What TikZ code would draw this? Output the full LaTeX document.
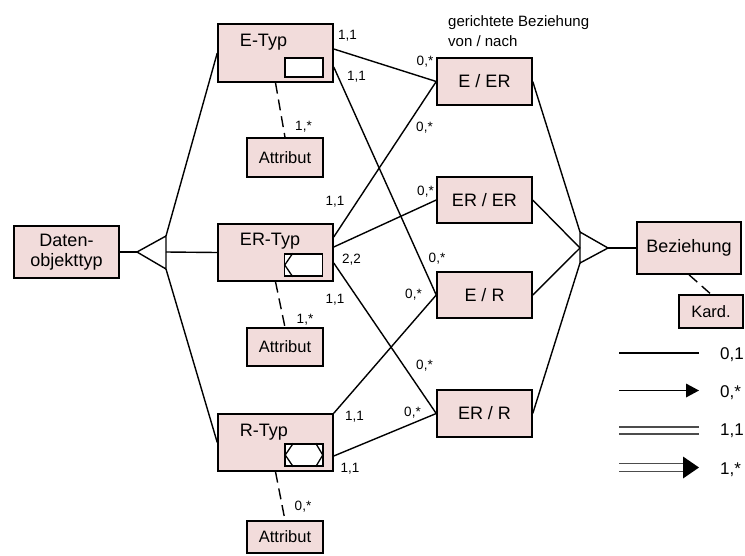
\documentclass[tikz,border=0pt]{standalone}
\usepackage{fontspec}
\setmainfont{Liberation Sans}
\usetikzlibrary{arrows.meta}
\definecolor{boxfill}{RGB}{242,220,219}
\begin{document}
\begin{tikzpicture}[x=1pt,y=-1pt,
  box/.style={draw=black, line width=1.5pt, fill=boxfill, inner sep=0pt, align=center, font=\fontsize{18}{20}\selectfont},
  typebox/.style={box, minimum width=115pt},
  relbox/.style={box, minimum width=95pt, minimum height=47pt},
  attrbox/.style={box, minimum width=76pt, font=\fontsize{16.5}{18}\selectfont},
  inner/.style={draw=black, line width=1.5pt, fill=white, inner sep=0pt, minimum width=38pt},
  conn/.style={draw=black, line width=1.4pt},
  dashconn/.style={draw=black, line width=1.4pt, dash pattern=on 11pt off 6pt},
  lab/.style={inner sep=0pt, font=\fontsize{13.5}{15}\selectfont},
  txt/.style={inner sep=0pt, font=\fontsize{18}{20}\selectfont},
  legtxt/.style={inner sep=0pt, anchor=west, font=\fontsize{17}{19}\selectfont},
  legline/.style={draw=black, line width=1.4pt},
  legdouble/.style={draw=black!70, line width=1.3pt}
]
\useasboundingbox (0,0) rectangle (745,555);

% left hierarchy
\node[box, minimum width=105pt, minimum height=52pt] (dot) at (66.5,252) {Daten-\\objekttyp};

\node[typebox, minimum height=58pt] (etyp) at (275.5,53) {};
\node[txt] (etypl) at (263.5,42) {E-Typ};
\node[inner, minimum height=19pt] (etypi) at (304,67.5) {};

\node[typebox, minimum height=57pt] (ertyp) at (275.5,252.5) {};
\node[txt] (ertypl) at (270,241) {ER-Typ};
\node[inner, minimum height=22pt] (ertypi) at (303.5,265) {};
\draw[line width=1.3pt] ([xshift=9pt]ertypi.north west) -- ([xshift=1pt]ertypi.west) -- ([xshift=9pt]ertypi.south west);

\node[typebox, minimum height=57pt] (rtyp) at (275.5,442.5) {};
\node[txt] (rtypl) at (264,432) {R-Typ};
\node[inner, minimum height=22pt] (rtypi) at (304,455) {};
\draw[line width=1.3pt] ([xshift=9pt]rtypi.north west) -- ([xshift=1pt]rtypi.west) -- ([xshift=9pt]rtypi.south west);
\draw[line width=1.3pt] ([xshift=-8pt]rtypi.north east) -- ([xshift=-1pt]rtypi.east) -- ([xshift=-8pt]rtypi.south east);

\node[attrbox, minimum height=39pt] (attr1) at (285,157.5) {Attribut};
\node[attrbox, minimum height=38pt] (attr2) at (285,347) {Attribut};
\node[attrbox, minimum height=32pt] (attr3) at (285,537) {Attribut};

% left triangle
\coordinate (ltip) at (137,252);
\coordinate (lbt) at (166,236);
\coordinate (lbm) at (166,252);
\coordinate (lbb) at (166,269);
\draw[conn] (ltip) -- (lbt) -- (lbb) -- cycle;
\draw[conn] (dot.east) -- (ltip);
\draw[conn] (lbt) -- (etyp.west);
\draw[conn] (lbm) -- (ertyp.west);
\draw[conn] (lbb) -- (rtyp.west);

% attribute links
\draw[dashconn] (etyp.south) -- (attr1.north);
\draw[dashconn] (ertyp.south) -- (attr2.north);
\draw[dashconn] (rtyp.south) -- (attr3.north);
\node[lab] (c1) at (303.5,126.5) {1,*};
\node[lab] (c2) at (305,320) {1,*};
\node[lab] (c3) at (303,507) {0,*};

% relationship boxes
\node[relbox] (eer) at (484.5,81.5) {E / ER};
\node[relbox, minimum height=46pt] (erer) at (484.5,200) {ER / ER};
\node[relbox, minimum height=46pt] (er) at (484.5,295) {E / R};
\node[relbox] (err) at (484.5,413.5) {ER / R};

\node[inner sep=0pt, anchor=base west, font=\fontsize{15}{17}\selectfont] (hd1) at (448,26.5) {gerichtete Beziehung};
\node[inner sep=0pt, anchor=base west, font=\fontsize{15}{17}\selectfont] (hd2) at (448,46) {von / nach};

% connections
\draw[conn] ([yshift=4pt]etyp.east) -- (eer.west);
\draw[conn] ([yshift=-14pt]etyp.east) -- (er.west);
\draw[conn] ([yshift=15.5pt]ertyp.east) -- (eer.west);
\draw[conn] ([yshift=5.5pt]ertyp.east) -- (erer.west);
\draw[conn] ([yshift=-10.5pt]ertyp.east) -- (err.west);
\draw[conn] (rtyp.north east) -- (er.west);
\draw[conn] ([yshift=-13.5pt]rtyp.east) -- (err.west);

\node[lab] (k1) at (347.5,36) {1,1};
\node[lab] (k2) at (356.5,76.5) {1,1};
\node[lab] (k3) at (425,62) {0,*};
\node[lab] (k4) at (424.5,128) {0,*};
\node[lab] (k5) at (335,201.5) {1,1};
\node[lab] (k6) at (425.5,192) {0,*};
\node[lab] (k7) at (351.5,259.5) {2,2};
\node[lab] (k8) at (437,259) {0,*};
\node[lab] (k9) at (413.5,294.5) {0,*};
\node[lab] (k10) at (335,300) {1,1};
\node[lab] (k11) at (424.5,366) {0,*};
\node[lab] (k12) at (354.5,416.5) {1,1};
\node[lab] (k13) at (412.5,413) {0,*};
\node[lab] (k14) at (350,468.5) {1,1};

% right triangle
\coordinate (rbt) at (580,232);
\coordinate (rbm) at (580,248);
\coordinate (rbb) at (580,263);
\coordinate (rtip) at (608,248);
\draw[conn] (rtip) -- (rbt) -- (rbb) -- cycle;
\draw[conn] (eer.east) -- (rbt);
\draw[conn] (erer.east) -- (rbm);
\draw[conn] (er.east) -- (rbm);
\draw[conn] (err.east) -- (rbb);

\node[box, minimum width=104pt, minimum height=52pt] (bez) at (689,248) {Beziehung};
\draw[conn] (rtip) -- (bez.west);
\node[box, minimum width=64pt, minimum height=33pt, font=\fontsize{16.5}{18}\selectfont] (kard) at (711,311.5) {Kard.};
\draw[dashconn] (bez.south) -- (kard.north);

% legend
\coordinate (la1) at (619,353); \coordinate (lb1) at (699,353);
\draw[legline] (la1) -- (lb1);
\node[legtxt] (lt1) at (720,355) {0,1};

\coordinate (la2) at (619,390.5); \coordinate (lb2) at (687,390.5);
\coordinate (tip2) at (699,390.5);
\draw[legline] (la2) -- (lb2);
\fill[black] (tip2) -- (686,383.5) -- (686,397.5) -- cycle;
\node[legtxt] (lt2) at (720,393) {0,*};

\coordinate (la3) at (619,427); \coordinate (lb3) at (699,427);
\coordinate (la3b) at (619,434); \coordinate (lb3b) at (699,434);
\draw[legdouble] (la3) -- (lb3);
\draw[legdouble] (la3b) -- (lb3b);
\node[legtxt] (lt3) at (720,431) {1,1};

\coordinate (la4) at (619,463.5); \coordinate (lb4) at (688,463.5);
\coordinate (la4b) at (619,471.5); \coordinate (lb4b) at (688,471.5);
\coordinate (tip4) at (699,467.5);
\draw[legdouble] (la4) -- (lb4);
\draw[legdouble] (la4b) -- (lb4b);
\fill[black] (tip4) -- (683,456.5) -- (683,478.5) -- cycle;
\node[legtxt] (lt4) at (720,469.5) {1,*};

\end{tikzpicture}
\end{document}
